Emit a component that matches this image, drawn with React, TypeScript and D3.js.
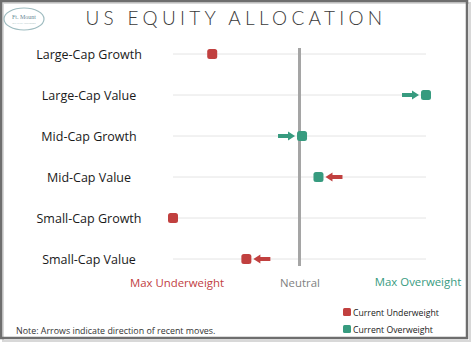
import React from "react";
import * as d3 from "d3";

const categories = [
  "Large-Cap Growth",
  "Large-Cap Value",
  "Mid-Cap Growth",
  "Mid-Cap Value",
  "Small-Cap Growth",
  "Small-Cap Value",
];
// -10 = max underweight, 0 = neutral, 10 = max overweight
const positions = [-6.9, 10, 0.2, 1.5, -10, -4.2];
// direction of recent move: 1 = toward overweight, -1 = toward underweight, 0 = none
const moves = [0, 1, 1, -1, 0, -1];
const axisLabels = ["Max Underweight", "Neutral", "Max Overweight"];
const legendLabels = ["Current Underweight", "Current Overweight"];
const title = "US EQUITY ALLOCATION";
const note = "Note: Arrows indicate direction of recent moves.";

const RED = "#c1403f";
const GREEN = "#379b7f";
const FONT = "'Open Sans', 'Noto Sans', sans-serif";

export default function App() {
  const W = 474;
  const H = 345;
  const x = d3.scaleLinear().domain([-10, 10]).range([173, 426]);
  const y = d3
    .scalePoint<string>()
    .domain(categories)
    .range([54, 259]);

  const arrow = (cx: number, cy: number, dir: number, color: string, key: string) => {
    const gap = 7;
    const len = 17;
    let start: number, end: number;
    if (dir > 0) {
      end = cx - gap;
      start = end - len;
    } else {
      end = cx + gap;
      start = end + len;
    }
    const head = 7;
    const sh = start;
    const hb = end - dir * head;
    const path = `M${sh},${cy - 2} L${hb},${cy - 2} L${hb},${cy - 4.5} L${end},${cy} L${hb},${cy + 4.5} L${hb},${cy + 2} L${sh},${cy + 2} Z`;
    return <path key={key} d={path} fill={color} />;
  };

  return (
    <svg
      width={W}
      height={H}
      style={{ position: "fixed", left: 0, top: 0, background: "#fff" }}
      fontFamily={FONT}
    >
      <rect x={0} y={0} width={W} height={H} fill="#fff" />
      <rect x={3} y={3} width={467} height={338} fill="none" stroke="#d8d8d8" strokeWidth={2} />
      <rect x={1} y={1} width={466} height={337} fill="none" stroke="#6e6e6e" strokeWidth={2.5} />

      {/* logo */}
      <ellipse cx={24} cy={19} rx={20} ry={11} fill="#fff" stroke="#9fbcc0" strokeWidth={1.2} />
      <text x={24} y={19} textAnchor="middle" fontSize={6} fontFamily="'Liberation Serif', serif" fill="#6a8a95">
        Ft. Mount
      </text>
      <text x={24} y={24} textAnchor="middle" fontSize={2.5} fontFamily="'Liberation Serif', serif" fill="#8aa">
        WEALTH ADVISORS
      </text>

      {/* title */}
      <text
        x={236}
        y={25}
        textAnchor="middle"
        fontSize={19}
        fontFamily="Lato, 'Open Sans', sans-serif"
        fontWeight={300}
        letterSpacing={4.3}
        fill="#3a3a3a"
      >
        {title}
      </text>

      {categories.map((c) => (
        <line
          key={"g" + c}
          x1={x(-10)}
          x2={x(10)}
          y1={y(c)!}
          y2={y(c)!}
          stroke="#e4e4e4"
          strokeWidth={1}
        />
      ))}

      <line x1={x(0)} x2={x(0)} y1={48} y2={266} stroke="#a5a5a5" strokeWidth={3} />

      {categories.map((c) => (
        <text key={"l" + c} x={89} y={y(c)! + 4.5} textAnchor="middle" fontSize={12.5} fill="#1a1a1a">
          {c}
        </text>
      ))}

      {categories.map((c, i) =>
        moves[i] !== 0
          ? arrow(x(positions[i]), y(c)!, moves[i], moves[i] > 0 ? GREEN : RED, "a" + c)
          : null
      )}

      {categories.map((c, i) => (
        <rect
          key={"m" + c}
          x={x(positions[i]) - 5}
          y={y(c)! - 5}
          width={10}
          height={10}
          rx={2.5}
          fill={positions[i] > 0 ? GREEN : RED}
        />
      ))}

      <text x={177} y={287} textAnchor="middle" fontSize={11.4} fill={RED}>
        {axisLabels[0]}
      </text>
      <text x={300} y={287} textAnchor="middle" fontSize={11.4} fill="#7f7f7f">
        {axisLabels[1]}
      </text>
      <text x={418} y={286} textAnchor="middle" fontSize={11.4} fill={GREEN}>
        {axisLabels[2]}
      </text>

      <rect x={343} y={308} width={8} height={8} rx={1.5} fill={RED} />
      <text x={353} y={315.5} fontSize={8.7} fill="#1a1a1a">
        {legendLabels[0]}
      </text>
      <rect x={343} y={325} width={8} height={8} rx={1.5} fill={GREEN} />
      <text x={353} y={332.5} fontSize={8.7} fill="#1a1a1a">
        {legendLabels[1]}
      </text>

      <text x={16} y={334} fontSize={8.9} fill="#333">
        {note}
      </text>
    </svg>
  );
}
